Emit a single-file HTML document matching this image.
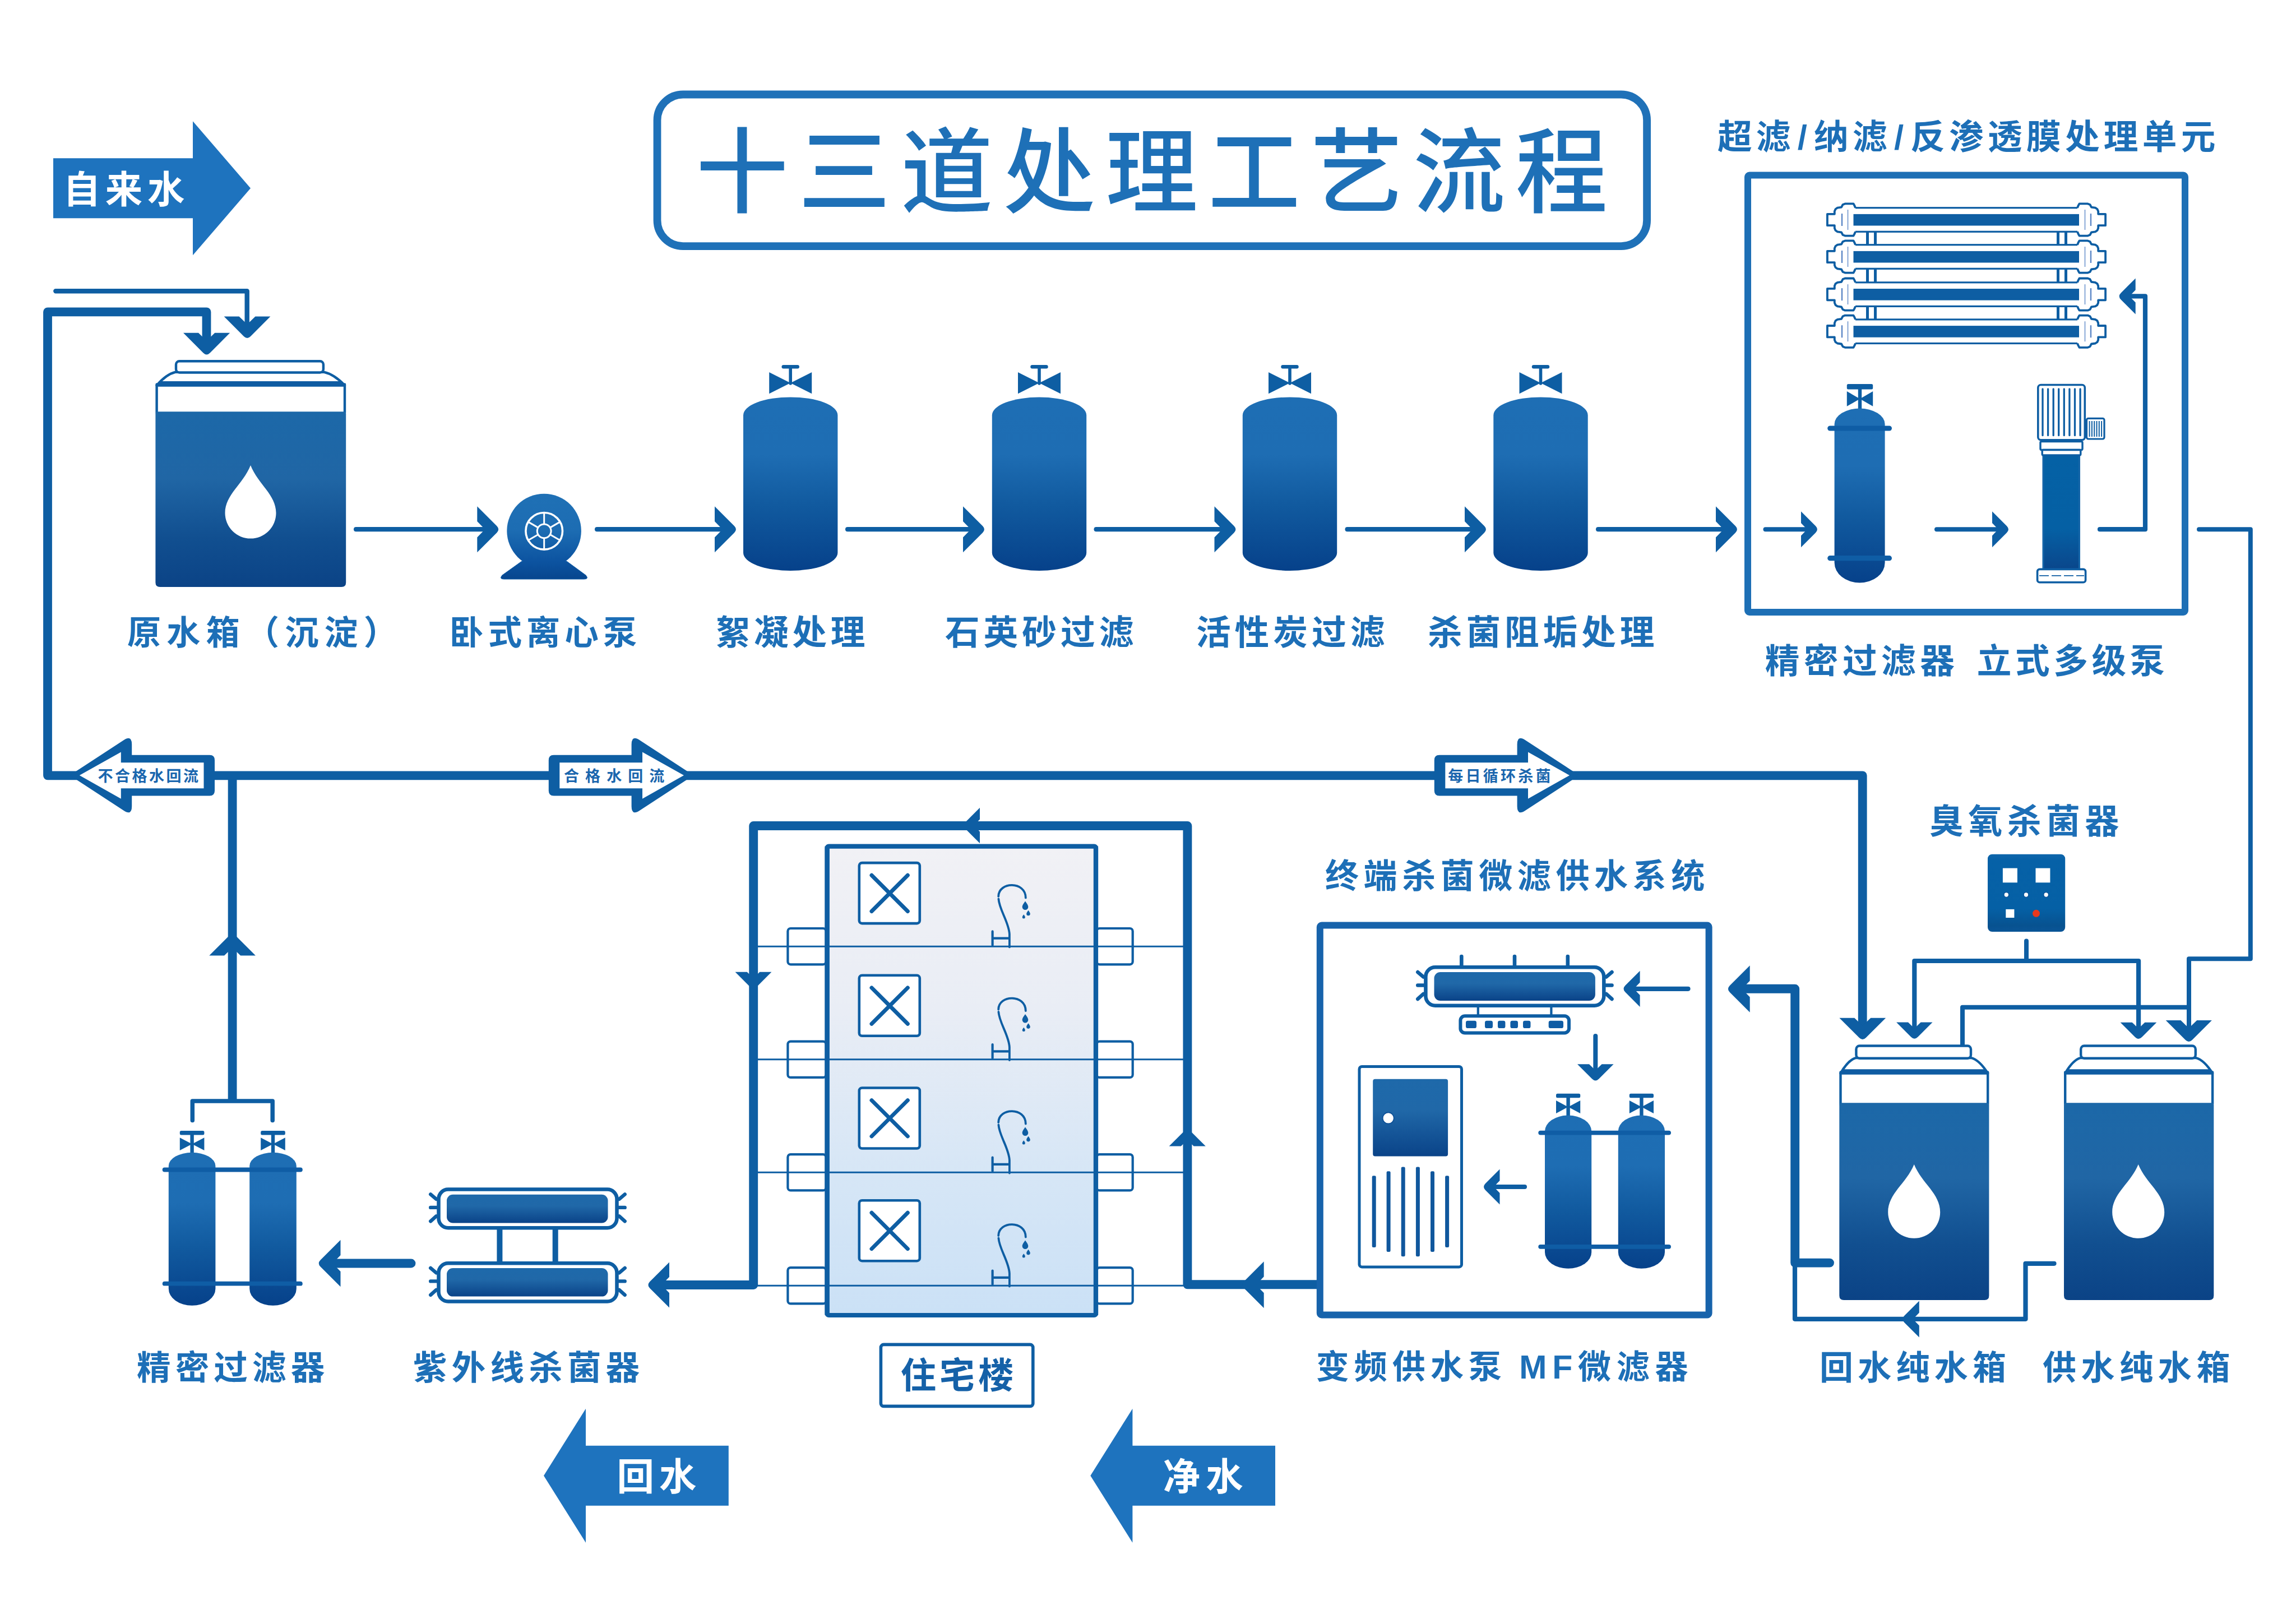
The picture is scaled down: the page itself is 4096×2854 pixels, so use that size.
<!DOCTYPE html>
<html lang="zh-CN"><head><meta charset="utf-8"><title>十三道处理工艺流程</title>
<style>html,body{margin:0;padding:0;background:#fff;width:4096px;height:2854px;overflow:hidden}svg{display:block}text{font-family:"Liberation Sans","Noto Sans CJK SC",sans-serif;white-space:pre}</style>
</head><body>
<svg width="4096" height="2854" viewBox="0 0 4096 2854">
<defs>
<linearGradient id="gT" x1="0" y1="0" x2="0" y2="1"><stop offset="0" stop-color="#1e6eb4"/><stop offset="0.33" stop-color="#1e6db3"/><stop offset="0.62" stop-color="#115a9f"/><stop offset="1" stop-color="#06418a"/></linearGradient>
<linearGradient id="gW" x1="0" y1="0" x2="0" y2="1"><stop offset="0" stop-color="#1c68a8"/><stop offset="0.38" stop-color="#2066a5"/><stop offset="0.72" stop-color="#114f90"/><stop offset="1" stop-color="#0b4386"/></linearGradient>
<linearGradient id="gU" x1="0" y1="0" x2="0" y2="1"><stop offset="0" stop-color="#1e69aa"/><stop offset="0.4" stop-color="#2068a8"/><stop offset="1" stop-color="#0a4388"/></linearGradient>
<linearGradient id="gP" gradientUnits="userSpaceOnUse" x1="0" y1="880" x2="0" y2="1033"><stop offset="0" stop-color="#1f70b5"/><stop offset="0.42" stop-color="#1d6db3"/><stop offset="0.8" stop-color="#0c53a0"/><stop offset="1" stop-color="#07468e"/></linearGradient>
<linearGradient id="gB" x1="0" y1="0" x2="0" y2="1"><stop offset="0" stop-color="#f1f1f5"/><stop offset="0.35" stop-color="#e9edf5"/><stop offset="0.7" stop-color="#d6e6f6"/><stop offset="1" stop-color="#cbe1f6"/></linearGradient>
<linearGradient id="gV" x1="0" y1="0" x2="0" y2="1"><stop offset="0" stop-color="#0561a5"/><stop offset="0.65" stop-color="#0560a4"/><stop offset="1" stop-color="#0a468b"/></linearGradient>
<linearGradient id="gO" x1="0" y1="0" x2="0" y2="1"><stop offset="0" stop-color="#0e66ac"/><stop offset="0.08" stop-color="#0661a7"/><stop offset="0.7" stop-color="#0560a5"/><stop offset="0.92" stop-color="#075290"/><stop offset="1" stop-color="#0a5597"/></linearGradient>
</defs>
<polygon points="95,282.2 344,282.2 344,216.2 447,335.7 344,455.2 344,389.2 95,389.2" fill="#1e73be"/>
<text x="112.7" y="361.7" font-size="66.5" font-weight="700" letter-spacing="8.61" fill="#fff">自来水</text>
<polygon points="1299.8,2578.7 1045,2578.7 1045,2512.7 970,2632.2 1045,2751.7 1045,2685.7 1299.8,2685.7" fill="#1e73be"/>
<text x="1100.5" y="2658.2" font-size="66.5" font-weight="700" letter-spacing="8.91" fill="#fff">回水</text>
<polygon points="2275,2578.7 2020.4,2578.7 2020.4,2512.7 1945.3,2632.2 2020.4,2751.7 2020.4,2685.7 2275,2685.7" fill="#1e73be"/>
<text x="2074.7" y="2658.2" font-size="66.5" font-weight="700" letter-spacing="10.01" fill="#fff">净水</text>
<rect x="1172.5" y="168.5" width="1765.6" height="270.6" rx="46" fill="#fff" stroke="#1f71b8" stroke-width="13.8"/>
<text x="1241.4" y="365.7" font-size="164.4" font-weight="500" letter-spacing="18.37" fill="#1e70b7">十三道处理工艺流程</text>
<path d="M99.3,519.2 H440.7 V585" fill="none" stroke="#0e5ea3" stroke-width="8.4" stroke-linecap="round" stroke-linejoin="round"/>
<path d="M482.4,564.5 L447,599.9 Q441,605.9 435,599.9 L399.6,564.5 L426.5,564.5 L441,578.6 L455.5,564.5 Z" fill="#0e5ea3"/>
<circle cx="85" cy="556" r="0"/>
<path d="M410.2,593.8 L374.6,629.4 Q368.6,635.4 362.6,629.4 L327,593.8 L354,593.8 L368.6,607.9 L383.2,593.8 Z" fill="#0e5ea3"/>
<path d="M279.6,736.2 V685.5 M615,685.5 V736.2" fill="none" stroke="#0e5ea3" stroke-width="4.4" stroke-linecap="round"/>
<path d="M313.3,663.7 Q296.4,667.7 279.6,687.5 H615 Q596.3,667.7 577.6,663.7 Z" fill="#fff" stroke="#0e5ea3" stroke-width="4.4" stroke-linejoin="round"/>
<polygon points="285.6,680 609,680 615,688 279.6,688" fill="#0f5ca2"/>
<rect x="314" y="644.2" width="262.9" height="20.3" rx="6" fill="#fff" stroke="#0e5ea3" stroke-width="4.4"/>
<path d="M277.4,738.2 Q277.4,734.2 281.4,734.2 H613.2 Q617.2,734.2 617.2,738.2 V1039 Q617.2,1047 609.2,1047 H285.4 Q277.4,1047 277.4,1039 Z" fill="url(#gW)"/>
<path d="M447,830 C460.6,864 492.5,882.3 492.5,915.1 A45.5,45.5 0 1 1 401.5,915.1 C401.5,882.3 433.4,864 447,830 Z" fill="#fff"/>
<path d="M635.1,944.2 H867.3" fill="none" stroke="#0e5ea3" stroke-width="8.2" stroke-linecap="round" stroke-linejoin="round"/>
<path d="M851.3,903.2 L886.3,938.2 Q892.3,944.2 886.3,950.2 L851.3,985.2 L851.3,958.6 L865.2,944.2 L851.3,929.9 Z" fill="#0e5ea3"/>
<path d="M1065.1,944.2 H1291" fill="none" stroke="#0e5ea3" stroke-width="8.2" stroke-linecap="round" stroke-linejoin="round"/>
<path d="M1275,903.2 L1310,938.2 Q1316,944.2 1310,950.2 L1275,985.2 L1275,958.6 L1288.9,944.2 L1275,929.9 Z" fill="#0e5ea3"/>
<path d="M1512.1,944.2 H1734" fill="none" stroke="#0e5ea3" stroke-width="8.2" stroke-linecap="round" stroke-linejoin="round"/>
<path d="M1718,903.2 L1753,938.2 Q1759,944.2 1753,950.2 L1718,985.2 L1718,958.6 L1731.9,944.2 L1718,929.9 Z" fill="#0e5ea3"/>
<path d="M1955.6,944.2 H2182.5" fill="none" stroke="#0e5ea3" stroke-width="8.2" stroke-linecap="round" stroke-linejoin="round"/>
<path d="M2166.5,903.2 L2201.5,938.2 Q2207.5,944.2 2201.5,950.2 L2166.5,985.2 L2166.5,958.6 L2180.4,944.2 L2166.5,929.9 Z" fill="#0e5ea3"/>
<path d="M2403.6,944.2 H2629" fill="none" stroke="#0e5ea3" stroke-width="8.2" stroke-linecap="round" stroke-linejoin="round"/>
<path d="M2613,903.2 L2648,938.2 Q2654,944.2 2648,950.2 L2613,985.2 L2613,958.6 L2626.9,944.2 L2613,929.9 Z" fill="#0e5ea3"/>
<path d="M2851.1,944.2 H3077" fill="none" stroke="#0e5ea3" stroke-width="8.2" stroke-linecap="round" stroke-linejoin="round"/>
<path d="M3061,903.2 L3096,938.2 Q3102,944.2 3096,950.2 L3061,985.2 L3061,958.6 L3074.9,944.2 L3061,929.9 Z" fill="#0e5ea3"/>
<path d="M931,1001 L896,1026 Q890,1033 899,1033 H1042 Q1051,1033 1045,1026 L1010.8,1001 Z" fill="url(#gP)" stroke="#0d5aa3" stroke-width="1"/>
<circle cx="970.6" cy="947" r="66.3" fill="url(#gP)"/>
<rect x="893" y="985" width="156" height="48" fill="none"/>
<g fill="none" stroke="#fff" stroke-width="3.6"><circle cx="970.7" cy="947.3" r="32.8"/><circle cx="970.7" cy="947.3" r="12.4" stroke-width="3"/>
<path d="M970.7,959.7 L970.7,980.1" stroke-width="3"/>
<path d="M960,953.5 L942.3,963.7" stroke-width="3"/>
<path d="M960,941.1 L942.3,930.9" stroke-width="3"/>
<path d="M970.7,934.9 L970.7,914.5" stroke-width="3"/>
<path d="M981.4,941.1 L999.1,930.9" stroke-width="3"/>
<path d="M981.4,953.5 L999.1,963.7" stroke-width="3"/>
</g>
<path d="M1326,740.4 A84.2,32 0 0 1 1494.4,740.4 V986 A84.2,32 0 0 1 1326,986 Z" fill="url(#gT)"/>
<path d="M1397.7,654.2 H1422.7" stroke="#0e5ea3" stroke-width="6.4" stroke-linecap="round" fill="none"/>
<path d="M1410.2,655 V684" stroke="#0e5ea3" stroke-width="5.6" stroke-linecap="round" fill="none"/>
<path d="M1372.2,664 L1448.2,702.3 V664 L1372.2,702.3 Z" fill="#0e5ea3"/>
<path d="M1769.8,740.4 A84.2,32 0 0 1 1938.2,740.4 V986 A84.2,32 0 0 1 1769.8,986 Z" fill="url(#gT)"/>
<path d="M1841.5,654.2 H1866.5" stroke="#0e5ea3" stroke-width="6.4" stroke-linecap="round" fill="none"/>
<path d="M1854,655 V684" stroke="#0e5ea3" stroke-width="5.6" stroke-linecap="round" fill="none"/>
<path d="M1816,664 L1892,702.3 V664 L1816,702.3 Z" fill="#0e5ea3"/>
<path d="M2216.8,740.4 A84.2,32 0 0 1 2385.2,740.4 V986 A84.2,32 0 0 1 2216.8,986 Z" fill="url(#gT)"/>
<path d="M2288.5,654.2 H2313.5" stroke="#0e5ea3" stroke-width="6.4" stroke-linecap="round" fill="none"/>
<path d="M2301,655 V684" stroke="#0e5ea3" stroke-width="5.6" stroke-linecap="round" fill="none"/>
<path d="M2263,664 L2339,702.3 V664 L2263,702.3 Z" fill="#0e5ea3"/>
<path d="M2664.3,740.4 A84.2,32 0 0 1 2832.7,740.4 V986 A84.2,32 0 0 1 2664.3,986 Z" fill="url(#gT)"/>
<path d="M2736,654.2 H2761" stroke="#0e5ea3" stroke-width="6.4" stroke-linecap="round" fill="none"/>
<path d="M2748.5,655 V684" stroke="#0e5ea3" stroke-width="5.6" stroke-linecap="round" fill="none"/>
<path d="M2710.5,664 L2786.5,702.3 V664 L2710.5,702.3 Z" fill="#0e5ea3"/>
<text x="227" y="1149.6" font-size="60.1" font-weight="700" letter-spacing="10.21" fill="#1d6fb7">原水箱（沉淀）</text>
<text x="802" y="1150" font-size="60.6" font-weight="700" letter-spacing="7.82" fill="#1d6fb7">卧式离心泵</text>
<text x="1276.6" y="1150.4" font-size="61.7" font-weight="700" letter-spacing="6.68" fill="#1d6fb7">絮凝处理</text>
<text x="1685.9" y="1150.4" font-size="61.7" font-weight="700" letter-spacing="7.01" fill="#1d6fb7">石英砂过滤</text>
<text x="2133.9" y="1150.4" font-size="61.7" font-weight="700" letter-spacing="7.01" fill="#1d6fb7">活性炭过滤</text>
<text x="2546.9" y="1150.4" font-size="61.7" font-weight="700" letter-spacing="6.87" fill="#1d6fb7">杀菌阻垢处理</text>
<text x="3063.9" y="266.4" font-size="61.7" font-weight="700" letter-spacing="7.22" fill="#1d6fb7">超滤<tspan dx="5">/</tspan><tspan dx="5">纳</tspan>滤<tspan dx="5">/</tspan><tspan dx="5">反</tspan>渗透膜处理单元</text>
<rect x="3118" y="312.5" width="780" height="779.5" rx="3" fill="none" stroke="#1d6fb5" stroke-width="12"/>
<rect x="3329" y="412.3" width="19" height="25.4" fill="#fff"/>
<path d="M3331.5,413.3 V436.7 M3345.5,413.3 V436.7" stroke="#0e5ea3" stroke-width="5" fill="none"/>
<rect x="3669" y="412.3" width="19" height="25.4" fill="#fff"/>
<path d="M3671.5,413.3 V436.7 M3685.5,413.3 V436.7" stroke="#0e5ea3" stroke-width="5" fill="none"/>
<rect x="3329" y="478.3" width="19" height="26.5" fill="#fff"/>
<path d="M3331.5,479.3 V503.8 M3345.5,479.3 V503.8" stroke="#0e5ea3" stroke-width="5" fill="none"/>
<rect x="3669" y="478.3" width="19" height="26.5" fill="#fff"/>
<path d="M3671.5,479.3 V503.8 M3685.5,479.3 V503.8" stroke="#0e5ea3" stroke-width="5" fill="none"/>
<rect x="3329" y="545.4" width="19" height="25.5" fill="#fff"/>
<path d="M3331.5,546.4 V569.9 M3345.5,546.4 V569.9" stroke="#0e5ea3" stroke-width="5" fill="none"/>
<rect x="3669" y="545.4" width="19" height="25.5" fill="#fff"/>
<path d="M3671.5,546.4 V569.9 M3685.5,546.4 V569.9" stroke="#0e5ea3" stroke-width="5" fill="none"/>
<rect x="3300" y="370.7" width="416" height="42.6" fill="#fff" stroke="#0e5ea3" stroke-width="3.2"/>
<path d="M3310,370.7 L3308.5,367 L3306.5,363.4 L3291.5,363.4 L3287.5,365 L3285,369.7 L3278,370.7 L3274.5,373 L3272.8,377 L3272.8,381.8 L3259.9,381.8 L3259.9,402.2 L3272.8,402.2 L3272.8,407 L3274.5,411 L3278,413.3 L3285,414.3 L3287.5,419 L3291.5,420.6 L3306.5,420.6 L3308.5,417 L3310,413.3" fill="#fff" stroke="#0e5ea3" stroke-width="3.8" stroke-linejoin="round"/>
<path d="M3286,381 V403" stroke="#5b86c6" stroke-width="2.4" fill="none"/>
<path d="M3296.5,374 V410" stroke="#7d9fd2" stroke-width="1.8" fill="none"/>
<path d="M3706,370.7 L3707.5,367 L3709.5,363.4 L3724.5,363.4 L3728.5,365 L3731,369.7 L3738,370.7 L3741.5,373 L3743.2,377 L3743.2,381.8 L3756.1,381.8 L3756.1,402.2 L3743.2,402.2 L3743.2,407 L3741.5,411 L3738,413.3 L3731,414.3 L3728.5,419 L3724.5,420.6 L3709.5,420.6 L3707.5,417 L3706,413.3" fill="#fff" stroke="#0e5ea3" stroke-width="3.8" stroke-linejoin="round"/>
<path d="M3730,381 V403" stroke="#5b86c6" stroke-width="2.4" fill="none"/>
<path d="M3719.5,374 V410" stroke="#7d9fd2" stroke-width="1.8" fill="none"/>
<rect x="3306.5" y="381.9" width="402.5" height="20.6" fill="#0e5ea3"/>
<rect x="3300" y="436.7" width="416" height="42.6" fill="#fff" stroke="#0e5ea3" stroke-width="3.2"/>
<path d="M3310,436.7 L3308.5,433 L3306.5,429.4 L3291.5,429.4 L3287.5,431 L3285,435.7 L3278,436.7 L3274.5,439 L3272.8,443 L3272.8,447.8 L3259.9,447.8 L3259.9,468.2 L3272.8,468.2 L3272.8,473 L3274.5,477 L3278,479.3 L3285,480.3 L3287.5,485 L3291.5,486.6 L3306.5,486.6 L3308.5,483 L3310,479.3" fill="#fff" stroke="#0e5ea3" stroke-width="3.8" stroke-linejoin="round"/>
<path d="M3286,447 V469" stroke="#5b86c6" stroke-width="2.4" fill="none"/>
<path d="M3296.5,440 V476" stroke="#7d9fd2" stroke-width="1.8" fill="none"/>
<path d="M3706,436.7 L3707.5,433 L3709.5,429.4 L3724.5,429.4 L3728.5,431 L3731,435.7 L3738,436.7 L3741.5,439 L3743.2,443 L3743.2,447.8 L3756.1,447.8 L3756.1,468.2 L3743.2,468.2 L3743.2,473 L3741.5,477 L3738,479.3 L3731,480.3 L3728.5,485 L3724.5,486.6 L3709.5,486.6 L3707.5,483 L3706,479.3" fill="#fff" stroke="#0e5ea3" stroke-width="3.8" stroke-linejoin="round"/>
<path d="M3730,447 V469" stroke="#5b86c6" stroke-width="2.4" fill="none"/>
<path d="M3719.5,440 V476" stroke="#7d9fd2" stroke-width="1.8" fill="none"/>
<rect x="3306.5" y="447.9" width="402.5" height="20.6" fill="#0e5ea3"/>
<rect x="3300" y="503.8" width="416" height="42.6" fill="#fff" stroke="#0e5ea3" stroke-width="3.2"/>
<path d="M3310,503.8 L3308.5,500.1 L3306.5,496.5 L3291.5,496.5 L3287.5,498.1 L3285,502.8 L3278,503.8 L3274.5,506.1 L3272.8,510.1 L3272.8,514.9 L3259.9,514.9 L3259.9,535.3 L3272.8,535.3 L3272.8,540.1 L3274.5,544.1 L3278,546.4 L3285,547.4 L3287.5,552.1 L3291.5,553.7 L3306.5,553.7 L3308.5,550.1 L3310,546.4" fill="#fff" stroke="#0e5ea3" stroke-width="3.8" stroke-linejoin="round"/>
<path d="M3286,514.1 V536.1" stroke="#5b86c6" stroke-width="2.4" fill="none"/>
<path d="M3296.5,507.1 V543.1" stroke="#7d9fd2" stroke-width="1.8" fill="none"/>
<path d="M3706,503.8 L3707.5,500.1 L3709.5,496.5 L3724.5,496.5 L3728.5,498.1 L3731,502.8 L3738,503.8 L3741.5,506.1 L3743.2,510.1 L3743.2,514.9 L3756.1,514.9 L3756.1,535.3 L3743.2,535.3 L3743.2,540.1 L3741.5,544.1 L3738,546.4 L3731,547.4 L3728.5,552.1 L3724.5,553.7 L3709.5,553.7 L3707.5,550.1 L3706,546.4" fill="#fff" stroke="#0e5ea3" stroke-width="3.8" stroke-linejoin="round"/>
<path d="M3730,514.1 V536.1" stroke="#5b86c6" stroke-width="2.4" fill="none"/>
<path d="M3719.5,507.1 V543.1" stroke="#7d9fd2" stroke-width="1.8" fill="none"/>
<rect x="3306.5" y="515" width="402.5" height="20.6" fill="#0e5ea3"/>
<rect x="3300" y="569.9" width="416" height="42.6" fill="#fff" stroke="#0e5ea3" stroke-width="3.2"/>
<path d="M3310,569.9 L3308.5,566.2 L3306.5,562.6 L3291.5,562.6 L3287.5,564.2 L3285,568.9 L3278,569.9 L3274.5,572.2 L3272.8,576.2 L3272.8,581 L3259.9,581 L3259.9,601.4 L3272.8,601.4 L3272.8,606.2 L3274.5,610.2 L3278,612.5 L3285,613.5 L3287.5,618.2 L3291.5,619.8 L3306.5,619.8 L3308.5,616.2 L3310,612.5" fill="#fff" stroke="#0e5ea3" stroke-width="3.8" stroke-linejoin="round"/>
<path d="M3286,580.2 V602.2" stroke="#5b86c6" stroke-width="2.4" fill="none"/>
<path d="M3296.5,573.2 V609.2" stroke="#7d9fd2" stroke-width="1.8" fill="none"/>
<path d="M3706,569.9 L3707.5,566.2 L3709.5,562.6 L3724.5,562.6 L3728.5,564.2 L3731,568.9 L3738,569.9 L3741.5,572.2 L3743.2,576.2 L3743.2,581 L3756.1,581 L3756.1,601.4 L3743.2,601.4 L3743.2,606.2 L3741.5,610.2 L3738,612.5 L3731,613.5 L3728.5,618.2 L3724.5,619.8 L3709.5,619.8 L3707.5,616.2 L3706,612.5" fill="#fff" stroke="#0e5ea3" stroke-width="3.8" stroke-linejoin="round"/>
<path d="M3730,580.2 V602.2" stroke="#5b86c6" stroke-width="2.4" fill="none"/>
<path d="M3719.5,573.2 V609.2" stroke="#7d9fd2" stroke-width="1.8" fill="none"/>
<rect x="3306.5" y="581.1" width="402.5" height="20.6" fill="#0e5ea3"/>
<path d="M3746,944.2 H3827 V528.4 H3800" fill="none" stroke="#0e5ea3" stroke-width="8.2" stroke-linecap="round" stroke-linejoin="round"/>
<path d="M3809.7,560.4 L3783.7,534.4 Q3777.7,528.4 3783.7,522.4 L3809.7,496.4 L3809.7,517.2 L3798.8,528.4 L3809.7,539.6 Z" fill="#0e5ea3"/>
<path d="M3149.5,944.2 H3225" fill="none" stroke="#0e5ea3" stroke-width="8" stroke-linecap="round" stroke-linejoin="round"/>
<path d="M3213,912.2 L3239,938.2 Q3245,944.2 3239,950.2 L3213,976.2 L3213,955.4 L3223.9,944.2 L3213,933 Z" fill="#0e5ea3"/>
<path d="M3455,944.2 H3566" fill="none" stroke="#0e5ea3" stroke-width="8" stroke-linecap="round" stroke-linejoin="round"/>
<path d="M3554,912.2 L3580,938.2 Q3586,944.2 3580,950.2 L3554,976.2 L3554,955.4 L3564.9,944.2 L3554,933 Z" fill="#0e5ea3"/>
<rect x="3294.8" y="685.1" width="46.4" height="9.3" rx="2.5" fill="#0e5ea3"/>
<rect x="3314.8" y="693.4" width="6.4" height="37.2" fill="#0e5ea3"/>
<path d="M3294.8,698 L3341.2,724.8 V698 L3294.8,724.8 Z" fill="#0e5ea3"/>
<path d="M3272.6,756.5 A45,28 0 0 1 3362.6,756.5 V1003.6 A45,36 0 0 1 3272.6,1003.6 Z" fill="url(#gT)"/>
<path d="M3264.8,764 H3370.4" stroke="#0f5da5" stroke-width="9.2" stroke-linecap="round" fill="none"/>
<path d="M3264.8,995.7 H3370.4" stroke="#0f5da5" stroke-width="9.2" stroke-linecap="round" fill="none"/>
<rect x="3645" y="810" width="64.5" height="206" fill="url(#gV)" stroke="#1565a8" stroke-width="3"/>
<rect x="3635.8" y="686.5" width="83.5" height="98.2" rx="5" fill="#fff" stroke="#0e5ea3" stroke-width="3.6"/>
<path d="M3644,694 V776.5" stroke="#0e5ea3" stroke-width="3.3" stroke-linecap="round"/>
<path d="M3653.6,694 V776.5" stroke="#0e5ea3" stroke-width="3.3" stroke-linecap="round"/>
<path d="M3663.2,694 V776.5" stroke="#0e5ea3" stroke-width="3.3" stroke-linecap="round"/>
<path d="M3672.7,694 V776.5" stroke="#0e5ea3" stroke-width="3.3" stroke-linecap="round"/>
<path d="M3682.3,694 V776.5" stroke="#0e5ea3" stroke-width="3.3" stroke-linecap="round"/>
<path d="M3691.9,694 V776.5" stroke="#0e5ea3" stroke-width="3.3" stroke-linecap="round"/>
<path d="M3701.5,694 V776.5" stroke="#0e5ea3" stroke-width="3.3" stroke-linecap="round"/>
<path d="M3711.1,694 V776.5" stroke="#0e5ea3" stroke-width="3.3" stroke-linecap="round"/>
<rect x="3722.5" y="746.3" width="31.5" height="36.7" rx="3" fill="#fff" stroke="#0e5ea3" stroke-width="3.2"/>
<path d="M3727.6,751 V779" stroke="#0e5ea3" stroke-width="2" />
<path d="M3731.9,751 V779" stroke="#0e5ea3" stroke-width="2" />
<path d="M3736.2,751 V779" stroke="#0e5ea3" stroke-width="2" />
<path d="M3740.5,751 V779" stroke="#0e5ea3" stroke-width="2" />
<path d="M3744.8,751 V779" stroke="#0e5ea3" stroke-width="2" />
<path d="M3749.1,751 V779" stroke="#0e5ea3" stroke-width="2" />
<rect x="3640" y="787.5" width="75" height="15" rx="2" fill="#fff" stroke="#0e5ea3" stroke-width="3.4"/>
<rect x="3643.2" y="802.5" width="68.6" height="9.5" rx="2" fill="#fff" stroke="#0e5ea3" stroke-width="3.4"/>
<rect x="3634.6" y="1015.4" width="86" height="23.3" rx="4" fill="#fff" stroke="#0e5ea3" stroke-width="3.6"/>
<path d="M3638,1026.8 H3718" stroke="#0e5ea3" stroke-width="1.8" stroke-dasharray="17 5" fill="none"/>
<text x="3148.7" y="1201.4" font-size="61.7" font-weight="700" letter-spacing="7.44" fill="#1d6fb7">精密过滤器</text>
<text x="3526.7" y="1201.4" font-size="61.7" font-weight="700" letter-spacing="6.61" fill="#1d6fb7">立式多级泵</text>
<path d="M3923,944.2 H4014.8 V1710.2 H3905 V1835" fill="none" stroke="#0e5ea3" stroke-width="8" stroke-linecap="round" stroke-linejoin="round"/>
<path d="M3945.9,1820 L3910.8,1855.1 Q3904.8,1861.1 3898.8,1855.1 L3863.7,1820 L3890.4,1820 L3904.8,1834 L3919.2,1820 Z" fill="#0e5ea3"/>
<path d="M368.5,615 V556.3 H85 V1383.3 H3322.7 V1835" fill="none" stroke="#0e5ea3" stroke-width="15.8" stroke-linecap="butt" stroke-linejoin="round"/>
<path d="M3364.2,1815.7 L3328.8,1851.1 Q3322.8,1857.1 3316.8,1851.1 L3281.4,1815.7 L3308.3,1815.7 L3322.8,1829.8 L3337.3,1815.7 Z" fill="#0e5ea3"/>
<path d="M414.6,1383 V1966" fill="none" stroke="#0e5ea3" stroke-width="15.8" stroke-linecap="butt" stroke-linejoin="round"/>
<path d="M373.3,1704.6 L408.6,1669.3 Q414.6,1663.3 420.6,1669.3 L455.9,1704.6 L429.1,1704.6 L414.6,1690.6 L400.1,1704.6 Z" fill="#0e5ea3"/>
<path d="M343.3,1998.5 V1964 H486.2 V1998.5" fill="none" stroke="#0e5ea3" stroke-width="7.5" stroke-linecap="round" stroke-linejoin="round"/>
<path d="M383,1355.7 Q383,1346.7 374,1346.7 L235.2,1346.7 L235.2,1327.7 Q235.2,1310.7 221,1320 L125.7,1382.2 Q124.4,1383 125.7,1383.8 L221,1446 Q235.2,1455.3 235.2,1438.3 L235.2,1419.6 L374,1419.6 Q383,1419.6 383,1410.6 Z" fill="#0e5ea3"/>
<path d="M363.5,1360.2 L215.8,1360.2 L215.8,1341.6 L141.8,1383 L215.8,1424.8 L215.8,1406.2 L363.5,1406.2 Z" fill="#fff"/>
<text x="174.6" y="1393.8" font-size="27" font-weight="700" letter-spacing="3.46" fill="#1a66ae">不合格水回流</text>
<path d="M978.8,1355.7 Q978.8,1346.7 987.8,1346.7 L1126.6,1346.7 L1126.6,1327.7 Q1126.6,1310.7 1140.8,1320 L1236.1,1382.2 Q1237.4,1383 1236.1,1383.8 L1140.8,1446 Q1126.6,1455.3 1126.6,1438.3 L1126.6,1419.6 L987.8,1419.6 Q978.8,1419.6 978.8,1410.6 Z" fill="#0e5ea3"/>
<path d="M998.3,1360.2 L1146,1360.2 L1146,1341.6 L1220,1383 L1146,1424.8 L1146,1406.2 L998.3,1406.2 Z" fill="#fff"/>
<text x="1006" y="1393.8" font-size="27" font-weight="700" letter-spacing="11.08" fill="#1a66ae">合格水回流</text>
<path d="M2558.8,1355.7 Q2558.8,1346.7 2567.8,1346.7 L2706.6,1346.7 L2706.6,1327.7 Q2706.6,1310.7 2720.8,1320 L2816.1,1382.2 Q2817.4,1383 2816.1,1383.8 L2720.8,1446 Q2706.6,1455.3 2706.6,1438.3 L2706.6,1419.6 L2567.8,1419.6 Q2558.8,1419.6 2558.8,1410.6 Z" fill="#0e5ea3"/>
<path d="M2578.3,1360.2 L2726,1360.2 L2726,1341.6 L2800,1383 L2726,1424.8 L2726,1406.2 L2578.3,1406.2 Z" fill="#fff"/>
<text x="2583.2" y="1393.8" font-size="27" font-weight="700" letter-spacing="4.26" fill="#1a66ae">每日循环杀菌</text>
<rect x="320.8" y="2016.9" width="43.6" height="7.5" rx="2.5" fill="#0e5ea3"/>
<rect x="339.4" y="2023.4" width="6.4" height="34.5" fill="#0e5ea3"/>
<path d="M320.8,2029.3 L364.4,2052.1 V2029.3 L320.8,2052.1 Z" fill="#0e5ea3"/>
<path d="M300.8,2079.8 A41.8,24 0 0 1 384.4,2079.8 V2298.7 A41.8,30 0 0 1 300.8,2298.7 Z" fill="url(#gT)"/>
<rect x="465.2" y="2016.9" width="43.6" height="7.5" rx="2.5" fill="#0e5ea3"/>
<rect x="483.8" y="2023.4" width="6.4" height="34.5" fill="#0e5ea3"/>
<path d="M465.2,2029.3 L508.8,2052.1 V2029.3 L465.2,2052.1 Z" fill="#0e5ea3"/>
<path d="M445.2,2079.8 A41.8,24 0 0 1 528.8,2079.8 V2298.7 A41.8,30 0 0 1 445.2,2298.7 Z" fill="url(#gT)"/>
<path d="M293.6,2086.5 H535.9" stroke="#0f5da5" stroke-width="7.8" stroke-linecap="round" fill="none"/>
<path d="M293.6,2289.7 H535.9" stroke="#0f5da5" stroke-width="7.8" stroke-linecap="round" fill="none"/>
<text x="244" y="2460.5" font-size="60.6" font-weight="700" letter-spacing="8.07" fill="#1d6fb7">精密过滤器</text>
<path d="M733.5,2253.5 H590" fill="none" stroke="#0e5ea3" stroke-width="15.8" stroke-linecap="round" stroke-linejoin="round"/>
<path d="M607.5,2295.3 L571.7,2259.5 Q565.7,2253.5 571.7,2247.5 L607.5,2211.7 L607.5,2238.9 L593.3,2253.5 L607.5,2268.1 Z" fill="#0e5ea3"/>
<path d="M891.4,2190 V2254 M990.7,2190 V2254" stroke="#0e5ea3" stroke-width="10" fill="none"/>
<rect x="782.5" y="2121.6" width="318" height="68.6" rx="17" fill="#fff" stroke="#0e5ea3" stroke-width="6.5"/>
<rect x="797" y="2130.7" width="287.5" height="50.8" rx="11" fill="url(#gU)"/>
<path d="M779.2,2153.9 H768.2 M778.2,2138.9 L768.2,2130.4 M778.2,2169.4 L768.2,2178.4" stroke="#0e5ea3" stroke-width="6.4" stroke-linecap="round" fill="none"/>
<path d="M1103.7,2153.9 H1114.7 M1104.7,2138.9 L1114.7,2130.4 M1104.7,2169.4 L1114.7,2178.4" stroke="#0e5ea3" stroke-width="6.4" stroke-linecap="round" fill="none"/>
<rect x="782.5" y="2253.2" width="318" height="68.3" rx="17" fill="#fff" stroke="#0e5ea3" stroke-width="6.5"/>
<rect x="797" y="2262" width="287.5" height="50.6" rx="11" fill="url(#gU)"/>
<path d="M779.2,2285.4 H768.2 M778.2,2270.4 L768.2,2261.9 M778.2,2300.9 L768.2,2309.9" stroke="#0e5ea3" stroke-width="6.4" stroke-linecap="round" fill="none"/>
<path d="M1103.7,2285.4 H1114.7 M1104.7,2270.4 L1114.7,2261.9 M1104.7,2300.9 L1114.7,2309.9" stroke="#0e5ea3" stroke-width="6.4" stroke-linecap="round" fill="none"/>
<text x="737" y="2460.5" font-size="60.6" font-weight="700" letter-spacing="8.13" fill="#1d6fb7">紫外线杀菌器</text>
<path d="M1175,2292 H1344.2 V1473 H2118.4 V2291.3 H2349" fill="none" stroke="#0e5ea3" stroke-width="15.9" stroke-linecap="butt" stroke-linejoin="round"/>
<path d="M1194,2332.6 L1159.4,2298 Q1153.4,2292 1159.4,2286 L1194,2251.4 L1194,2277.8 L1180.2,2292 L1194,2306.2 Z" fill="#0e5ea3"/>
<path d="M1748,1504.2 L1722.3,1478.5 Q1716.3,1472.5 1722.3,1466.5 L1748,1440.8 L1748,1461.4 L1737.2,1472.5 L1748,1483.6 Z" fill="#0e5ea3"/>
<path d="M1376.4,1733.8 L1350,1760.2 Q1344,1766.2 1338,1760.2 L1311.6,1733.8 L1332.7,1733.8 L1344,1744.8 L1355.3,1733.8 Z" fill="#0e5ea3"/>
<path d="M2085.6,2044.6 L2112.2,2018 Q2118.2,2012 2124.2,2018 L2150.8,2044.6 L2129.6,2044.6 L2118.2,2033.5 L2106.8,2044.6 Z" fill="#0e5ea3"/>
<path d="M2254.7,2333.3 L2219.2,2297.8 Q2213.2,2291.8 2219.2,2285.8 L2254.7,2250.3 L2254.7,2277.3 L2240.6,2291.8 L2254.7,2306.3 Z" fill="#0e5ea3"/>
<rect x="1475.6" y="1509.6" width="479.4" height="836.4" rx="3" fill="url(#gB)" stroke="#0e5ea3" stroke-width="8.2"/>
<rect x="1405.4" y="1656" width="68" height="64.3" rx="5" fill="#fff" stroke="#0e5ea3" stroke-width="4.2"/>
<rect x="1956.5" y="1656" width="64.2" height="64.3" rx="5" fill="#fff" stroke="#0e5ea3" stroke-width="4.2"/>
<rect x="1405.4" y="1857.6" width="68" height="64.3" rx="5" fill="#fff" stroke="#0e5ea3" stroke-width="4.2"/>
<rect x="1956.5" y="1857.6" width="64.2" height="64.3" rx="5" fill="#fff" stroke="#0e5ea3" stroke-width="4.2"/>
<rect x="1405.4" y="2059.1" width="68" height="64.3" rx="5" fill="#fff" stroke="#0e5ea3" stroke-width="4.2"/>
<rect x="1956.5" y="2059.1" width="64.2" height="64.3" rx="5" fill="#fff" stroke="#0e5ea3" stroke-width="4.2"/>
<rect x="1405.4" y="2261.1" width="68" height="64.3" rx="5" fill="#fff" stroke="#0e5ea3" stroke-width="4.2"/>
<rect x="1956.5" y="2261.1" width="64.2" height="64.3" rx="5" fill="#fff" stroke="#0e5ea3" stroke-width="4.2"/>
<rect x="1471.5" y="1505.5" width="486.6" height="844.6" rx="5" fill="none" stroke="#0e5ea3" stroke-width="0"/>
<path d="M1475.6,1509.6 V2346 M1955,1509.6 V2346" stroke="#0e5ea3" stroke-width="8.2" fill="none"/>
<path d="M1350,1688.2 H2112" stroke="#0e5ea3" stroke-width="3" fill="none"/>
<path d="M1350,1889.8 H2112" stroke="#0e5ea3" stroke-width="3" fill="none"/>
<path d="M1350,2091.3 H2112" stroke="#0e5ea3" stroke-width="3" fill="none"/>
<path d="M1350,2293.3 H2112" stroke="#0e5ea3" stroke-width="3" fill="none"/>
<rect x="1532.8" y="1539.1" width="108" height="108" rx="5" fill="#fff" stroke="#0e5ea3" stroke-width="4.6"/>
<path d="M1555,1561.2 L1619.3,1625.5 M1619.3,1561.2 L1555,1625.5" stroke="#0e5ea3" stroke-width="7" stroke-linecap="round" fill="none"/>
<g transform="translate(0,0.4)" fill="none" stroke="#0e5ea3" stroke-width="3.8" stroke-linecap="round">
<path d="M1800.9,1689 V1666 C1800,1645 1782.5,1622 1781.4,1603"/>
<path d="M1781.2,1598.5 C1781.5,1572 1829.6,1571 1829.8,1601"/>
<path d="M1770.6,1661 V1685.5 M1771,1673.3 H1800" stroke-width="4.2"/>
<path d="M1829,1607 C1832,1611.5 1834.3,1614 1834.3,1617.3 A5.3,5.3 0 0 1 1823.7,1617.3 C1823.7,1614 1826,1611.5 1829,1607 Z" fill="#0e5ea3" stroke="none"/>
<path d="M1834.5,1623.3 C1836.3,1626 1837.8,1627.6 1837.8,1629.6 A3.3,3.3 0 0 1 1831.2,1629.6 C1831.2,1627.6 1832.7,1626 1834.5,1623.3 Z" fill="#0e5ea3" stroke="none"/>
<path d="M1826.3,1630.8 C1827.6,1632.8 1828.8,1634 1828.8,1635.5 A2.5,2.5 0 0 1 1823.8,1635.5 C1823.8,1634 1825,1632.8 1826.3,1630.8 Z" fill="#0e5ea3" stroke="none"/>
</g>
<rect x="1532.8" y="1739.8" width="108" height="108" rx="5" fill="#fff" stroke="#0e5ea3" stroke-width="4.6"/>
<path d="M1555,1761.9 L1619.3,1826.2 M1619.3,1761.9 L1555,1826.2" stroke="#0e5ea3" stroke-width="7" stroke-linecap="round" fill="none"/>
<g transform="translate(0,202)" fill="none" stroke="#0e5ea3" stroke-width="3.8" stroke-linecap="round">
<path d="M1800.9,1689 V1666 C1800,1645 1782.5,1622 1781.4,1603"/>
<path d="M1781.2,1598.5 C1781.5,1572 1829.6,1571 1829.8,1601"/>
<path d="M1770.6,1661 V1685.5 M1771,1673.3 H1800" stroke-width="4.2"/>
<path d="M1829,1607 C1832,1611.5 1834.3,1614 1834.3,1617.3 A5.3,5.3 0 0 1 1823.7,1617.3 C1823.7,1614 1826,1611.5 1829,1607 Z" fill="#0e5ea3" stroke="none"/>
<path d="M1834.5,1623.3 C1836.3,1626 1837.8,1627.6 1837.8,1629.6 A3.3,3.3 0 0 1 1831.2,1629.6 C1831.2,1627.6 1832.7,1626 1834.5,1623.3 Z" fill="#0e5ea3" stroke="none"/>
<path d="M1826.3,1630.8 C1827.6,1632.8 1828.8,1634 1828.8,1635.5 A2.5,2.5 0 0 1 1823.8,1635.5 C1823.8,1634 1825,1632.8 1826.3,1630.8 Z" fill="#0e5ea3" stroke="none"/>
</g>
<rect x="1532.8" y="1940.5" width="108" height="108" rx="5" fill="#fff" stroke="#0e5ea3" stroke-width="4.6"/>
<path d="M1555,1962.6 L1619.3,2026.9 M1619.3,1962.6 L1555,2026.9" stroke="#0e5ea3" stroke-width="7" stroke-linecap="round" fill="none"/>
<g transform="translate(0,403.5)" fill="none" stroke="#0e5ea3" stroke-width="3.8" stroke-linecap="round">
<path d="M1800.9,1689 V1666 C1800,1645 1782.5,1622 1781.4,1603"/>
<path d="M1781.2,1598.5 C1781.5,1572 1829.6,1571 1829.8,1601"/>
<path d="M1770.6,1661 V1685.5 M1771,1673.3 H1800" stroke-width="4.2"/>
<path d="M1829,1607 C1832,1611.5 1834.3,1614 1834.3,1617.3 A5.3,5.3 0 0 1 1823.7,1617.3 C1823.7,1614 1826,1611.5 1829,1607 Z" fill="#0e5ea3" stroke="none"/>
<path d="M1834.5,1623.3 C1836.3,1626 1837.8,1627.6 1837.8,1629.6 A3.3,3.3 0 0 1 1831.2,1629.6 C1831.2,1627.6 1832.7,1626 1834.5,1623.3 Z" fill="#0e5ea3" stroke="none"/>
<path d="M1826.3,1630.8 C1827.6,1632.8 1828.8,1634 1828.8,1635.5 A2.5,2.5 0 0 1 1823.8,1635.5 C1823.8,1634 1825,1632.8 1826.3,1630.8 Z" fill="#0e5ea3" stroke="none"/>
</g>
<rect x="1532.8" y="2141.2" width="108" height="108" rx="5" fill="#fff" stroke="#0e5ea3" stroke-width="4.6"/>
<path d="M1555,2163.3 L1619.3,2227.6 M1619.3,2163.3 L1555,2227.6" stroke="#0e5ea3" stroke-width="7" stroke-linecap="round" fill="none"/>
<g transform="translate(0,605.5)" fill="none" stroke="#0e5ea3" stroke-width="3.8" stroke-linecap="round">
<path d="M1800.9,1689 V1666 C1800,1645 1782.5,1622 1781.4,1603"/>
<path d="M1781.2,1598.5 C1781.5,1572 1829.6,1571 1829.8,1601"/>
<path d="M1770.6,1661 V1685.5 M1771,1673.3 H1800" stroke-width="4.2"/>
<path d="M1829,1607 C1832,1611.5 1834.3,1614 1834.3,1617.3 A5.3,5.3 0 0 1 1823.7,1617.3 C1823.7,1614 1826,1611.5 1829,1607 Z" fill="#0e5ea3" stroke="none"/>
<path d="M1834.5,1623.3 C1836.3,1626 1837.8,1627.6 1837.8,1629.6 A3.3,3.3 0 0 1 1831.2,1629.6 C1831.2,1627.6 1832.7,1626 1834.5,1623.3 Z" fill="#0e5ea3" stroke="none"/>
<path d="M1826.3,1630.8 C1827.6,1632.8 1828.8,1634 1828.8,1635.5 A2.5,2.5 0 0 1 1823.8,1635.5 C1823.8,1634 1825,1632.8 1826.3,1630.8 Z" fill="#0e5ea3" stroke="none"/>
</g>
<rect x="1571.4" y="2398.4" width="271.4" height="110" rx="5" fill="#fff" stroke="#0e5ea3" stroke-width="5.6"/>
<text x="1606.8" y="2476.3" font-size="63.3" font-weight="700" letter-spacing="5.75" fill="#1561a8">住宅楼</text>
<text x="2364" y="1584.1" font-size="60.1" font-weight="700" letter-spacing="8.48" fill="#1d6fb7">终端杀菌微滤供水系统</text>
<rect x="2354.8" y="1650.5" width="693.8" height="695" rx="3" fill="none" stroke="#1763ab" stroke-width="12"/>
<path d="M2607.3,1724 V1706 M2702,1724 V1706 M2796.8,1724 V1706" stroke="#0e5ea3" stroke-width="6.6" stroke-linecap="round" fill="none"/>
<path d="M2636.8,1795 V1811 M2767.4,1795 V1811" stroke="#0e5ea3" stroke-width="4.2" fill="none"/>
<rect x="2543.4" y="1725.2" width="317.9" height="68.5" rx="17" fill="#fff" stroke="#0e5ea3" stroke-width="6.5"/>
<rect x="2558.5" y="1734" width="287.4" height="51" rx="11" fill="url(#gU)"/>
<path d="M2540.2,1757.5 H2529.2 M2539.2,1742.5 L2529.2,1734 M2539.2,1773 L2529.2,1782" stroke="#0e5ea3" stroke-width="6.4" stroke-linecap="round" fill="none"/>
<path d="M2864.6,1757.5 H2875.6 M2865.6,1742.5 L2875.6,1734 M2865.6,1773 L2875.6,1782" stroke="#0e5ea3" stroke-width="6.4" stroke-linecap="round" fill="none"/>
<rect x="2605.4" y="1812.3" width="193.6" height="30.1" rx="8" fill="#fff" stroke="#0e5ea3" stroke-width="6"/>
<rect x="2615" y="1820.7" width="19" height="13.4" rx="3.4" fill="#0f5ca4"/>
<rect x="2649" y="1820.7" width="14" height="13.4" rx="3.4" fill="#0f5ca4"/>
<rect x="2672" y="1820.7" width="13.4" height="13.4" rx="3.4" fill="#0f5ca4"/>
<rect x="2694.4" y="1820.7" width="13.6" height="13.4" rx="3.4" fill="#0f5ca4"/>
<rect x="2717" y="1820.7" width="13.5" height="13.4" rx="3.4" fill="#0f5ca4"/>
<rect x="2762.7" y="1820.7" width="26.3" height="13.4" rx="3.4" fill="#0f5ca4"/>
<path d="M3011.5,1763.8 H2915" fill="none" stroke="#0e5ea3" stroke-width="8.2" stroke-linecap="round" stroke-linejoin="round"/>
<path d="M2925.6,1795.9 L2899.5,1769.8 Q2893.5,1763.8 2899.5,1757.8 L2925.6,1731.7 L2925.6,1752.6 L2914.7,1763.8 L2925.6,1775 Z" fill="#0e5ea3"/>
<path d="M2846.3,1848 V1910" fill="none" stroke="#0e5ea3" stroke-width="8" stroke-linecap="round" stroke-linejoin="round"/>
<path d="M2878.6,1898.3 L2852.3,1924.6 Q2846.3,1930.6 2840.3,1924.6 L2814,1898.3 L2835,1898.3 L2846.3,1909.3 L2857.6,1898.3 Z" fill="#0e5ea3"/>
<rect x="2776" y="1950.7" width="43.2" height="7.5" rx="2.5" fill="#0e5ea3"/>
<rect x="2794.4" y="1957.2" width="6.4" height="34.5" fill="#0e5ea3"/>
<path d="M2776,1963.1 L2819.2,1985.9 V1963.1 L2776,1985.9 Z" fill="#0e5ea3"/>
<path d="M2756,2017.6 A41.6,28 0 0 1 2839.2,2017.6 V2233.7 A41.6,29 0 0 1 2756,2233.7 Z" fill="url(#gT)"/>
<rect x="2906.8" y="1950.7" width="43.2" height="7.5" rx="2.5" fill="#0e5ea3"/>
<rect x="2925.2" y="1957.2" width="6.4" height="34.5" fill="#0e5ea3"/>
<path d="M2906.8,1963.1 L2950,1985.9 V1963.1 L2906.8,1985.9 Z" fill="#0e5ea3"/>
<path d="M2886.8,2017.6 A41.6,28 0 0 1 2970,2017.6 V2233.7 A41.6,29 0 0 1 2886.8,2233.7 Z" fill="url(#gT)"/>
<path d="M2748.2,2020.6 H2977.1" stroke="#0f5da5" stroke-width="7.8" stroke-linecap="round" fill="none"/>
<path d="M2748.2,2223.8 H2977.1" stroke="#0f5da5" stroke-width="7.8" stroke-linecap="round" fill="none"/>
<path d="M2720,2117 H2664" fill="none" stroke="#0e5ea3" stroke-width="8" stroke-linecap="round" stroke-linejoin="round"/>
<path d="M2675.5,2148.5 L2650,2123 Q2644,2117 2650,2111 L2675.5,2085.5 L2675.5,2106 L2664.8,2117 L2675.5,2128 Z" fill="#0e5ea3"/>
<rect x="2425" y="1902.5" width="182.5" height="357.4" rx="4.5" fill="#fff" stroke="#0e5ea3" stroke-width="5"/>
<rect x="2449.2" y="1924.8" width="133.9" height="137.6" rx="4" fill="url(#gU)"/>
<circle cx="2476.7" cy="1994.4" r="10" fill="#fff" stroke="#0c4f96" stroke-width="1.6"/>
<rect x="2447.7" y="2097.2" width="7" height="127.8" rx="2.2" fill="#10579d"/>
<rect x="2473.6" y="2089.3" width="7" height="143.7" rx="2.2" fill="#10579d"/>
<rect x="2499.7" y="2081.6" width="7" height="159.6" rx="2.2" fill="#10579d"/>
<rect x="2525.9" y="2081.6" width="7" height="159.6" rx="2.2" fill="#10579d"/>
<rect x="2552" y="2089.3" width="7" height="143.7" rx="2.2" fill="#10579d"/>
<rect x="2578.1" y="2097.2" width="7" height="127.8" rx="2.2" fill="#10579d"/>
<text x="2347.8" y="2459.2" font-size="59" font-weight="700" letter-spacing="9.03" fill="#1d6fb7">变频供水泵</text>
<text x="2710.3" y="2459.2" font-size="59" font-weight="700" letter-spacing="9.78" fill="#1d6fb7"><tspan font-weight="700">MF</tspan>微滤器</text>
<path d="M3264,2252.6 H3202.2 V1763.8 H3110" fill="none" stroke="#0e5ea3" stroke-width="15.9" stroke-linecap="round" stroke-linejoin="round"/>
<path d="M3121.7,1805.8 L3085.9,1770 Q3079.9,1764 3085.9,1758 L3121.7,1722.2 L3121.7,1749.4 L3107.5,1764 L3121.7,1778.6 Z" fill="#0e5ea3"/>
<path d="M3664.5,2253.8 H3613.5 V2352.8 H3202 V2256" fill="none" stroke="#0e5ea3" stroke-width="8.2" stroke-linecap="round" stroke-linejoin="round"/>
<path d="M3423.8,2385.6 L3397.2,2359 Q3391.2,2353 3397.2,2347 L3423.8,2320.4 L3423.8,2341.6 L3412.7,2353 L3423.8,2364.4 Z" fill="#0e5ea3"/>
<path d="M3615,1678.6 V1714" fill="none" stroke="#0e5ea3" stroke-width="8" stroke-linecap="round" stroke-linejoin="round"/>
<path d="M3415.3,1835 V1714 H3815.1 V1835" fill="none" stroke="#0e5ea3" stroke-width="8.2" stroke-linecap="butt" stroke-linejoin="round"/>
<path d="M3447.5,1823.5 L3421.3,1849.7 Q3415.3,1855.7 3409.3,1849.7 L3383.1,1823.5 L3404,1823.5 L3415.3,1834.4 L3426.6,1823.5 Z" fill="#0e5ea3"/>
<path d="M3847.3,1823.7 L3821,1850 Q3815,1856 3809,1850 L3782.7,1823.7 L3803.7,1823.7 L3815,1834.7 L3826.3,1823.7 Z" fill="#0e5ea3"/>
<path d="M3501,1864 V1796.7 H3905" fill="none" stroke="#0e5ea3" stroke-width="8" stroke-linecap="butt" stroke-linejoin="round"/>
<path d="M3283.5,1969.3 V1912.5 M3546.2,1912.5 V1969.3" fill="none" stroke="#0e5ea3" stroke-width="4.4" stroke-linecap="round"/>
<path d="M3310.7,1887 Q3297.1,1891 3283.5,1914.5 H3546.2 Q3531.4,1891 3516.7,1887 Z" fill="#fff" stroke="#0e5ea3" stroke-width="4.4" stroke-linejoin="round"/>
<polygon points="3289.5,1907.2 3540.2,1907.2 3546.2,1915 3283.5,1915" fill="#0f5ca2"/>
<rect x="3311.4" y="1865.5" width="204.6" height="22.3" rx="6" fill="#fff" stroke="#0e5ea3" stroke-width="4.4"/>
<path d="M3281.3,1971.3 Q3281.3,1967.3 3285.3,1967.3 H3544.4 Q3548.4,1967.3 3548.4,1971.3 V2311 Q3548.4,2319 3540.4,2319 H3289.3 Q3281.3,2319 3281.3,2311 Z" fill="url(#gW)"/>
<path d="M3684.2,1969.3 V1912.5 M3947.1,1912.5 V1969.3" fill="none" stroke="#0e5ea3" stroke-width="4.4" stroke-linecap="round"/>
<path d="M3711.5,1887 Q3697.8,1891 3684.2,1914.5 H3947.1 Q3932.3,1891 3917.5,1887 Z" fill="#fff" stroke="#0e5ea3" stroke-width="4.4" stroke-linejoin="round"/>
<polygon points="3690.2,1907.2 3941.1,1907.2 3947.1,1915 3684.2,1915" fill="#0f5ca2"/>
<rect x="3712.2" y="1865.5" width="204.6" height="22.3" rx="6" fill="#fff" stroke="#0e5ea3" stroke-width="4.4"/>
<path d="M3682,1971.3 Q3682,1967.3 3686,1967.3 H3945.3 Q3949.3,1967.3 3949.3,1971.3 V2311 Q3949.3,2319 3941.3,2319 H3690 Q3682,2319 3682,2311 Z" fill="url(#gW)"/>
<path d="M3414.7,2077 C3428.6,2111.1 3461.2,2128.8 3461.2,2162.3 A46.5,46.5 0 1 1 3368.2,2162.3 C3368.2,2128.8 3400.8,2111.1 3414.7,2077 Z" fill="#fff"/>
<path d="M3814.7,2077 C3828.6,2111.1 3861.2,2128.8 3861.2,2162.3 A46.5,46.5 0 1 1 3768.2,2162.3 C3768.2,2128.8 3800.8,2111.1 3814.7,2077 Z" fill="#fff"/>
<text x="3246" y="2461" font-size="60" font-weight="700" letter-spacing="8.27" fill="#1d6fb7">回水纯水箱</text>
<text x="3644" y="2461" font-size="60" font-weight="700" letter-spacing="8.60" fill="#1d6fb7">供水纯水箱</text>
<text x="3442" y="1486.5" font-size="61" font-weight="700" letter-spacing="8.32" fill="#1d6fb7">臭氧杀菌器</text>
<rect x="3546" y="1523.7" width="138.2" height="138.3" rx="8" fill="url(#gO)"/>
<rect x="3572.9" y="1548.6" width="26" height="25.7" fill="#fff"/><rect x="3631.5" y="1548.6" width="25.9" height="25.7" fill="#fff"/>
<circle cx="3579.3" cy="1596" r="4.4" fill="#fff" stroke="#0a4f94" stroke-width="1.4"/>
<circle cx="3614.5" cy="1596" r="4.4" fill="#fff" stroke="#0a4f94" stroke-width="1.4"/>
<circle cx="3650.2" cy="1596" r="4.4" fill="#fff" stroke="#0a4f94" stroke-width="1.4"/>
<rect x="3578.3" y="1621.9" width="15.1" height="15.1" fill="#fff"/>
<circle cx="3632.5" cy="1629.3" r="6.5" fill="#e8381c"/>
</svg>
</body></html>
